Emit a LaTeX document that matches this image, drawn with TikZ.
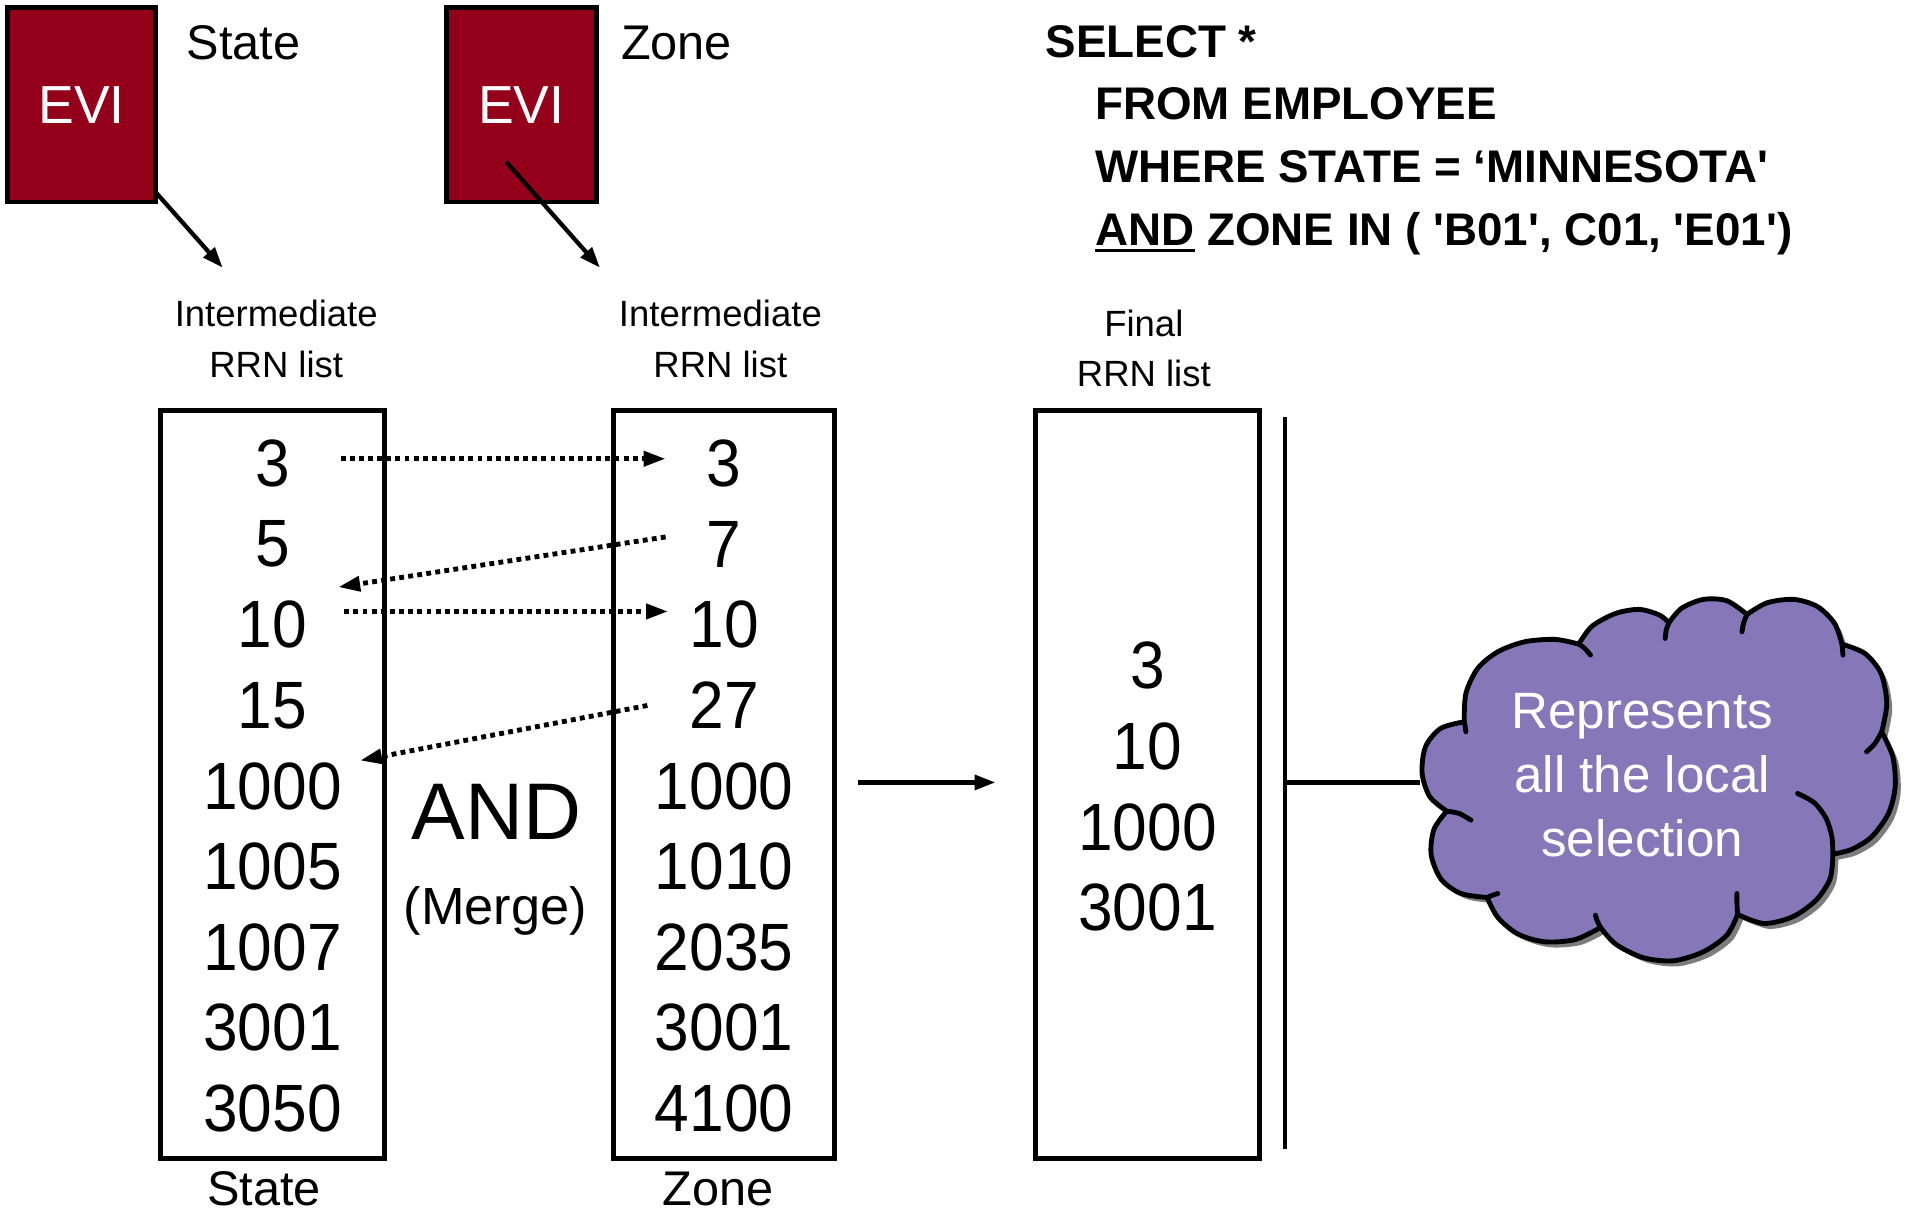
\documentclass[tikz,border=0pt]{standalone}
\usepackage{fontspec}
\setmainfont{Liberation Sans}
\newfontfamily\sqlfont{Liberation Sans}[Ligatures=TeXOff]
\newfontfamily\numfont{Liberation Sans}[FakeStretch=0.93]
\usetikzlibrary{arrows.meta}
\definecolor{evired}{RGB}{148,0,26}
\definecolor{cloudfill}{RGB}{134,119,185}
\definecolor{cloudshadow}{RGB}{125,125,125}
% underline drawn as a thick rule under a word
\newcommand\sqlunder[1]{\setbox0\hbox{#1}\rlap{\rule[-6pt]{\wd0}{2.8pt}}\box0\relax}
\tikzset{
  txt/.style={font=\fontsize{#1}{#1}\selectfont, inner sep=0pt, outer sep=0pt},
  evibox/.style={draw=black, line width=4pt, fill=evired, text=white,
    minimum width=122pt, minimum height=160pt, inner sep=0pt,
    font=\fontsize{44}{44}\selectfont},
  listbox/.style={draw=black, line width=4pt, minimum height=615pt, inner sep=0pt},
  num/.style={font=\numfont\fontsize{55}{55}\selectfont, inner sep=0pt, outer sep=0pt},
  lbl/.style={txt=30, anchor=base},
  capt/.style={txt=40, anchor=base},
  sql/.style={font=\sqlfont\bfseries\fontsize{37.6}{37.6}\selectfont,
    inner sep=0pt, anchor=base west},
  solidarrow/.style={line width=3.5pt, -{Triangle[length=17pt,width=12pt]}},
  dotarrow/.style={line width=4pt, dash pattern=on 4pt off 3.5pt,
    -{Triangle[length=18pt,width=12pt]}},
  plainline/.style={line width=3.5pt},
  % outer contour of the cloud, lobe by lobe
  cloud outline/.style={insert path={
    plot[smooth] coordinates {(250,425) (255,340) (290,265) (350,215) (430,185) (520,178) (590,192)}
    -- plot[smooth] coordinates {(590,192) (630,138) (700,100) (770,88) (830,105) (858,128)}
    -- plot[smooth] coordinates {(858,128) (895,85) (960,58) (1030,62) (1090,103)}
    -- plot[smooth] coordinates {(1090,103) (1150,68) (1230,58) (1300,80) (1350,130) (1372,192)}
    -- plot[smooth] coordinates {(1372,192) (1440,220) (1488,280) (1505,370) (1490,455)}
    -- plot[smooth] coordinates {(1490,455) (1523,530) (1530,620) (1510,700) (1460,770) (1400,808) (1345,822)}
    -- plot[smooth] coordinates {(1345,822) (1337,895) (1295,960) (1225,1010) (1140,1030) (1062,1003)}
    -- plot[smooth] coordinates {(1062,1003) (1030,1065) (960,1115) (870,1142) (780,1132) (700,1092) (655,1042)}
    -- plot[smooth] coordinates {(655,1042) (580,1078) (490,1085) (410,1062) (350,1012) (318,952)}
    -- plot[smooth] coordinates {(318,952) (240,940) (182,898) (152,825) (160,748) (198,693)}
    -- plot[smooth] coordinates {(198,693) (148,650) (125,580) (135,500) (180,445) (250,425)}
    -- cycle}},
  cloud ticks/.style={insert path={
    plot[smooth] coordinates {(588,190) (608,205) (625,225)}
    plot[smooth] coordinates {(858,128) (850,150) (847,175)}
    plot[smooth] coordinates {(1090,103) (1080,128) (1075,155)}
    plot[smooth] coordinates {(1372,192) (1375,225)}
    plot[smooth] coordinates {(1490,455) (1470,490) (1445,515)}
    plot[smooth] coordinates {(1240,640) (1290,668) (1325,715) (1342,770) (1345,822)}
    plot[smooth] coordinates {(1062,1003) (1060,970) (1060,940)}
    plot[smooth] coordinates {(655,1042) (645,1022) (640,1005)}
    plot[smooth] coordinates {(318,952) (335,945) (350,940)}
    plot[smooth] coordinates {(198,693) (235,700) (270,720)}
    plot[smooth] coordinates {(250,425) (253,440) (255,455)}}},
}
\begin{document}
\begin{tikzpicture}[x=1pt,y=-1pt]
\useasboundingbox (0,0) rectangle (1568,998);

% index boxes
\node[evibox] (evi1) at (67,86) {EVI};
\node[evibox, minimum width=123pt] (evi2) at (428.5,86) {EVI};
\node[capt] (st) at (200,49) {State};
\node[capt] (zt) at (556,49) {Zone};

% list headings
\node[lbl] (im1) at (227,268.5) {Intermediate};
\node[lbl] (rr1) at (227,310.5) {RRN list};
\node[lbl] (im2) at (592,268.5) {Intermediate};
\node[lbl] (rr2) at (592,310.5) {RRN list};
\node[lbl] (fin) at (940,276.7) {Final};
\node[lbl] (rr3) at (940,317.8) {RRN list};

\coordinate (a1) at (183,220);
\coordinate (a2) at (493,220);
\draw[solidarrow] ([shift={(61,72)}]evi1.center) -- (a1);
\draw[solidarrow] ([shift={(-12.5,47)}]evi2.center) -- (a2);

% RRN lists
\node[listbox, minimum width=184pt] (lb1) at (224,644.5) {};
\node[listbox, minimum width=182pt] (lb2) at (595,644.5) {};
\node[listbox, minimum width=184pt] (lb3) at (943,644.5) {};

\foreach \v [count=\i] in {3,5,10,15,1000,1005,1007,3001,3050}
  \node[num] (s\i) at (224,{381+66.25*(\i-1)}) {\v};
\foreach \v [count=\i] in {3,7,10,27,1000,1010,2035,3001,4100}
  \node[num] (z\i) at (595,{381+66.25*(\i-1)}) {\v};
\foreach \v [count=\i] in {3,10,1000,3001}
  \node[num] (f\i) at (943,{547+66.3*(\i-1)}) {\v};

\node[txt=66, anchor=base] (andop) at (408,690) {AND};
\node[txt=43, anchor=base] (merge) at (407,760) {(Merge)};
\node[capt] (sb) at (217,991) {State};
\node[capt] (zb) at (590,991) {Zone};

% merge steps
\draw[dotarrow] ([shift={(56,-4)}]s1.center) -- ([shift={(-48,-4)}]z1.center);
\draw[dotarrow] ([shift={(-48,-6)}]z2.center) -- ([shift={(54,-31)}]s3.center);
\draw[dotarrow] ([shift={(59,-11)}]s3.center) -- ([shift={(-46,-11)}]z3.center);
\draw[dotarrow] ([shift={(-63,0)}]z4.center) -- ([shift={(72,-21)}]s5.center);

\draw[solidarrow] ([xshift=17pt,yshift=1.5pt]lb2.east) -- ([xshift=-31pt,yshift=1.5pt]lb3.west);

% query
\node[sql] (q1) at (859,47) {SELECT *};
\node[sql] (q2) at (900,98.5) {FROM EMPLOYEE};
\node[sql] (q3) at (900,150) {WHERE STATE = ‘MINNESOTA'};
\node[sql] (q4) at (900,201.5) {\sqlunder{AND} ZONE IN ( 'B01', C01, 'E01')};

% bracket and cloud
\coordinate (vt) at (1056,343);
\coordinate (vb) at (1056,944);
\draw[plainline] (vt) -- (vb);
\coordinate (hl) at (1058,643);
\coordinate (cl) at (1167,643);
\draw[plainline] (hl) -- (cl);

\begin{scope}[shift={(1138.6,481.2)}, xscale=0.2767, yscale=0.274]
  \fill[cloudshadow, cloud outline];
\end{scope}
\begin{scope}[shift={(1134.1,476.7)}, xscale=0.2767, yscale=0.274]
  \filldraw[fill=cloudfill, draw=black, line width=4pt, line join=round, cloud outline];
  \draw[line width=4pt, line cap=round, cloud ticks];
\end{scope}
\node[txt=42, text=white, anchor=base] (ct1) at (1349.5,598.6) {Represents};
\node[txt=42, text=white, anchor=base] (ct2) at (1349.5,651) {all the local};
\node[txt=42, text=white, anchor=base] (ct3) at (1349.5,703.5) {selection};
\end{tikzpicture}
\end{document}
